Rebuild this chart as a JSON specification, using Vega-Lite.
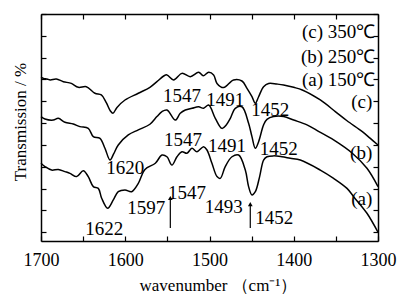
{
  "$schema": "https://vega.github.io/schema/vega-lite/v6.json",
  "width": 337,
  "height": 227,
  "autosize": {"type": "none"},
  "padding": {"left": 41, "top": 14, "right": 26, "bottom": 56},
  "background": "white",
  "config": {
    "view": {"stroke": null},
    "font": "Liberation Serif",
    "axis": {
      "domainColor": "#000", "domainWidth": 1.5, "tickColor": "#000", "tickWidth": 1.2,
      "grid": false, "labelFont": "Liberation Serif", "titleFont": "Liberation Serif",
      "labelColor": "#000", "titleColor": "#000", "titleFontWeight": "normal"
    }
  },
  "datasets": {
    "spectra": [
      {"s":"c","wn":1700.0,"t":7.10},{"s":"c","wn":1696.9,"t":7.05},{"s":"c","wn":1692.9,"t":7.02},{"s":"c","wn":1689.0,"t":6.98},
      {"s":"c","wn":1681.8,"t":7.02},{"s":"c","wn":1673.5,"t":6.90},{"s":"c","wn":1664.0,"t":6.82},{"s":"c","wn":1655.7,"t":6.64},
      {"s":"c","wn":1646.2,"t":6.67},{"s":"c","wn":1636.0,"t":6.37},{"s":"c","wn":1628.4,"t":6.29},{"s":"c","wn":1622.5,"t":5.94},
      {"s":"c","wn":1617.8,"t":5.57},{"s":"c","wn":1614.6,"t":5.45},{"s":"c","wn":1609.8,"t":5.72},{"s":"c","wn":1600.3,"t":6.06},
      {"s":"c","wn":1584.5,"t":6.37},{"s":"c","wn":1570.7,"t":6.64},{"s":"c","wn":1562.4,"t":6.90},{"s":"c","wn":1554.4,"t":7.16},
      {"s":"c","wn":1550.5,"t":7.21},{"s":"c","wn":1542.6,"t":6.98},{"s":"c","wn":1532.7,"t":7.28},{"s":"c","wn":1522.8,"t":7.13},
      {"s":"c","wn":1512.9,"t":7.33},{"s":"c","wn":1507.4,"t":7.17},{"s":"c","wn":1501.0,"t":7.33},{"s":"c","wn":1495.1,"t":7.21},
      {"s":"c","wn":1491.1,"t":6.82},{"s":"c","wn":1483.2,"t":6.63},{"s":"c","wn":1471.4,"t":6.98},{"s":"c","wn":1461.5,"t":6.93},
      {"s":"c","wn":1455.5,"t":6.59},{"s":"c","wn":1449.6,"t":6.21},{"s":"c","wn":1445.6,"t":5.91},{"s":"c","wn":1441.7,"t":6.21},
      {"s":"c","wn":1435.8,"t":6.67},{"s":"c","wn":1429.8,"t":6.82},{"s":"c","wn":1419.9,"t":6.79},{"s":"c","wn":1412.0,"t":6.75},
      {"s":"c","wn":1400.1,"t":6.64},{"s":"c","wn":1389.9,"t":6.52},{"s":"c","wn":1368.5,"t":6.06},{"s":"c","wn":1350.7,"t":5.53},
      {"s":"c","wn":1336.8,"t":5.11},{"s":"c","wn":1318.6,"t":4.61},{"s":"c","wn":1309.1,"t":4.30},{"s":"c","wn":1300.0,"t":4.00},

      {"s":"b","wn":1700.0,"t":5.30},{"s":"b","wn":1695.3,"t":5.19},{"s":"b","wn":1685.4,"t":5.14},{"s":"b","wn":1679.5,"t":5.22},
      {"s":"b","wn":1671.6,"t":5.04},{"s":"b","wn":1661.7,"t":4.96},{"s":"b","wn":1653.8,"t":4.84},{"s":"b","wn":1643.9,"t":4.76},
      {"s":"b","wn":1637.9,"t":4.38},{"s":"b","wn":1630.0,"t":4.30},{"s":"b","wn":1624.1,"t":3.85},{"s":"b","wn":1618.1,"t":3.31},
      {"s":"b","wn":1613.8,"t":3.59},{"s":"b","wn":1608.3,"t":4.00},{"s":"b","wn":1596.4,"t":4.46},{"s":"b","wn":1584.5,"t":4.69},
      {"s":"b","wn":1570.7,"t":4.95},{"s":"b","wn":1562.4,"t":5.30},{"s":"b","wn":1556.4,"t":5.53},{"s":"b","wn":1550.5,"t":5.60},
      {"s":"b","wn":1540.6,"t":5.14},{"s":"b","wn":1534.7,"t":5.45},{"s":"b","wn":1528.7,"t":5.60},{"s":"b","wn":1520.8,"t":5.68},
      {"s":"b","wn":1512.9,"t":5.75},{"s":"b","wn":1507.0,"t":5.68},{"s":"b","wn":1501.0,"t":5.83},{"s":"b","wn":1493.1,"t":5.22},
      {"s":"b","wn":1485.2,"t":4.76},{"s":"b","wn":1480.1,"t":4.92},{"s":"b","wn":1475.3,"t":5.22},{"s":"b","wn":1469.4,"t":5.68},
      {"s":"b","wn":1461.5,"t":5.75},{"s":"b","wn":1453.6,"t":4.99},{"s":"b","wn":1449.6,"t":4.38},{"s":"b","wn":1445.6,"t":3.85},
      {"s":"b","wn":1441.7,"t":4.15},{"s":"b","wn":1435.8,"t":4.92},{"s":"b","wn":1431.8,"t":5.17},{"s":"b","wn":1423.9,"t":5.30},
      {"s":"b","wn":1412.0,"t":5.30},{"s":"b","wn":1400.1,"t":5.14},{"s":"b","wn":1384.3,"t":4.92},{"s":"b","wn":1370.1,"t":4.61},
      {"s":"b","wn":1352.7,"t":4.23},{"s":"b","wn":1330.5,"t":3.62},{"s":"b","wn":1313.1,"t":2.93},{"s":"b","wn":1300.0,"t":2.09},

      {"s":"a","wn":1700.0,"t":3.16},{"s":"a","wn":1695.3,"t":3.01},{"s":"a","wn":1687.4,"t":2.85},{"s":"a","wn":1679.5,"t":2.88},
      {"s":"a","wn":1671.6,"t":2.78},{"s":"a","wn":1665.6,"t":2.70},{"s":"a","wn":1657.7,"t":2.55},{"s":"a","wn":1649.8,"t":2.82},
      {"s":"a","wn":1643.9,"t":2.55},{"s":"a","wn":1637.9,"t":2.09},{"s":"a","wn":1632.0,"t":2.01},{"s":"a","wn":1628.0,"t":1.56},
      {"s":"a","wn":1620.9,"t":1.10},{"s":"a","wn":1614.2,"t":1.48},{"s":"a","wn":1608.3,"t":1.86},{"s":"a","wn":1600.3,"t":1.94},
      {"s":"a","wn":1592.4,"t":1.86},{"s":"a","wn":1584.5,"t":2.24},{"s":"a","wn":1576.6,"t":2.88},{"s":"a","wn":1564.3,"t":3.16},
      {"s":"a","wn":1556.4,"t":3.54},{"s":"a","wn":1550.5,"t":3.46},{"s":"a","wn":1544.6,"t":3.08},{"s":"a","wn":1538.6,"t":3.46},
      {"s":"a","wn":1532.7,"t":3.69},{"s":"a","wn":1526.8,"t":3.62},{"s":"a","wn":1520.8,"t":3.85},{"s":"a","wn":1514.9,"t":3.69},
      {"s":"a","wn":1507.0,"t":3.92},{"s":"a","wn":1503.0,"t":3.77},{"s":"a","wn":1497.1,"t":3.16},{"s":"a","wn":1491.1,"t":2.55},
      {"s":"a","wn":1487.2,"t":2.47},{"s":"a","wn":1481.3,"t":3.01},{"s":"a","wn":1473.3,"t":3.46},{"s":"a","wn":1465.4,"t":3.54},
      {"s":"a","wn":1457.5,"t":2.85},{"s":"a","wn":1453.6,"t":2.09},{"s":"a","wn":1449.6,"t":1.71},{"s":"a","wn":1445.6,"t":1.86},
      {"s":"a","wn":1440.5,"t":2.55},{"s":"a","wn":1435.8,"t":3.31},{"s":"a","wn":1431.8,"t":3.46},{"s":"a","wn":1423.9,"t":3.50},
      {"s":"a","wn":1414.0,"t":3.46},{"s":"a","wn":1404.1,"t":3.39},{"s":"a","wn":1392.2,"t":3.31},{"s":"a","wn":1368.5,"t":2.85},
      {"s":"a","wn":1352.7,"t":2.47},{"s":"a","wn":1336.8,"t":2.01},{"s":"a","wn":1328.9,"t":1.63},{"s":"a","wn":1313.1,"t":0.87},
      {"s":"a","wn":1300.0,"t":0.00}
    ],
    "peaks": [
      {"label":"1547","x":1532.7,"y":6.24},{"label":"1491","x":1481.3,"y":6.06},{"label":"1452","x":1427.8,"y":5.60},
      {"label":"1620","x":1599.9,"y":2.93},{"label":"1547","x":1531.5,"y":4.23},{"label":"1491","x":1479.3,"y":3.97},
      {"label":"1452","x":1417.9,"y":3.80},{"label":"1622","x":1624.9,"y":0.14},{"label":"1597","x":1575.0,"y":1.10},
      {"label":"1547","x":1526.8,"y":1.82},{"label":"1493","x":1483.2,"y":1.17},{"label":"1452","x":1423.1,"y":0.64}
    ],
    "legend": [
      {"label":"(c) 350℃","x":1303.2,"y":9.19},{"label":"(b) 250℃","x":1303.2,"y":8.05},{"label":"(a) 150℃","x":1303.2,"y":6.98},
      {"label":"(c)","x":1306.8,"y":5.98},{"label":"(b)","x":1306.8,"y":3.62},{"label":"(a)","x":1306.8,"y":1.51}
    ],
    "arrows": [
      {"x":1546.5,"y1":0.20,"y2":1.57},{"x":1451.6,"y1":0.20,"y2":1.29}
    ]
  },
  "layer": [
    {
      "data": {"name": "spectra"},
      "mark": {"type": "line", "color": "#000", "strokeWidth": 1.5, "interpolate": "catmull-rom"},
      "encoding": {
        "x": {"field": "wn", "type": "quantitative",
              "scale": {"domain": [1300, 1700], "reverse": true, "nice": false, "zero": false},
              "axis": {"orient": "bottom", "values": [1300,1350,1400,1450,1500,1550,1600,1650,1700],
                       "labelExpr": "datum.value % 100 === 0 ? datum.label : ''", "format": "d",
                       "tickSize": -5, "labelFont": "Liberation Serif", "labelFontSize": 18, "labelPadding": 15, "labelOverlap": false, "labelFlush": false,
                       "title": "wavenumber （cm⁻¹）", "titleFont": "Liberation Serif", "titleFontSize": 17, "titleX": 177, "titleY": 44, "titleBaseline": "middle"}},
        "y": {"field": "t", "type": "quantitative",
              "scale": {"domain": [-0.4, 10], "nice": false, "zero": false},
              "axis": {"orient": "left", "values": [0,1,2,3,4,5,6,7,8,9,10], "labels": false, "tickSize": -5,
                       "title": "Transmission / %", "titleFont": "Liberation Serif", "titleFontSize": 17, "titleX": -21, "titleY": 107.5,
                       "titleAngle": -90, "titleBaseline": "middle", "titleAlign": "center"}},
        "detail": {"field": "s"}
      }
    },
    {
      "data": {"name": "peaks"},
      "mark": {"type": "text", "font": "Liberation Serif", "fontSize": 19, "color": "#000", "align": "center", "baseline": "middle"},
      "encoding": {
        "x": {"field": "x", "type": "quantitative",
              "axis": {"orient": "top", "values": [1300,1350,1400,1450,1500,1550,1600,1650,1700], "labels": false, "tickSize": -5, "title": null}},
        "y": {"field": "y", "type": "quantitative",
              "axis": {"orient": "right", "values": [0,1,2,3,4,5,6,7,8,9,10], "labels": false, "tickSize": -5, "title": null}},
        "text": {"field": "label"}
      }
    },
    {
      "data": {"name": "legend"},
      "mark": {"type": "text", "font": "Liberation Serif", "fontSize": 19, "color": "#000", "align": "right", "baseline": "middle"},
      "encoding": {
        "x": {"field": "x", "type": "quantitative", "axis": null},
        "y": {"field": "y", "type": "quantitative", "axis": null},
        "text": {"field": "label"}
      }
    },
    {
      "data": {"name": "arrows"},
      "mark": {"type": "rule", "color": "#000", "strokeWidth": 1.2},
      "encoding": {
        "x": {"field": "x", "type": "quantitative", "axis": null},
        "y": {"field": "y1", "type": "quantitative", "axis": null},
        "y2": {"field": "y2"}
      }
    },
    {
      "data": {"name": "arrows"},
      "mark": {"type": "point", "filled": true, "color": "#000", "opacity": 1, "size": 22, "shape": "triangle-up"},
      "encoding": {
        "x": {"field": "x", "type": "quantitative", "axis": null},
        "y": {"field": "y2", "type": "quantitative", "axis": null}
      }
    }
  ],
  "resolve": {"axis": {"x": "independent", "y": "independent"}}
}
